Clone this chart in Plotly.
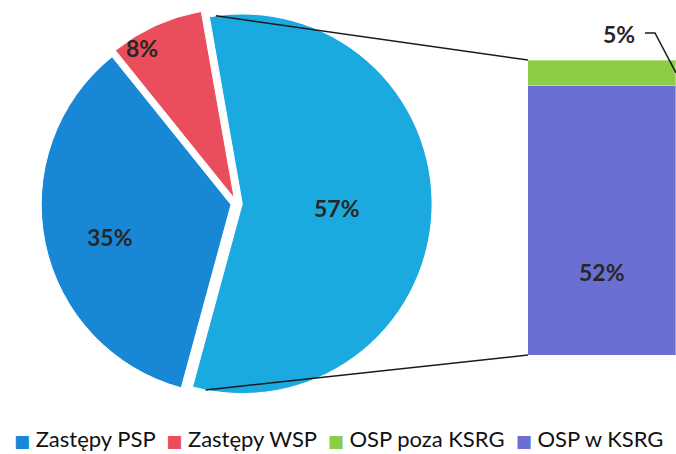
import math
import plotly.graph_objects as go

# ---- data ----
pie_labels = ["OSP", "Zastępy PSP", "Zastępy WSP"]
pie_values = [57, 35, 8]
pie_colors = ["#1BAAE0", "#1888D6", "#EA4E5C"]

bar_labels = ["OSP w KSRG", "OSP poza KSRG"]
bar_values = [52, 5]
bar_colors = ["#6B6FD4", "#8DCC45"]

legend_labels = ["Zastępy PSP", "Zastępy WSP", "OSP poza KSRG", "OSP w KSRG"]
legend_colors = ["#1888D6", "#EA4E5C", "#8DCC45", "#6B6FD4"]

# ---- layout params ----
W, H = 676, 454
ML, MR, MT, MB = 0, 0, 8, 55
PW, PH = W - ML - MR, H - MT - MB
pie_dom_x = [0.0, 0.70]
pie_rotation = -10
pull = 0.03
bar_dom_x = [0.781, 1.0]
bar_dom_y = [0.1125, 0.867]
label_radius = [0.5, 0.66, 0.93]     # label placement within each slice (fraction of radius)
label_angle_shift = [0, -3, -7]       # degrees
FONT = "Lato"
TXT = "#262626"

fig = go.Figure()

fig.add_trace(go.Pie(
    labels=pie_labels, values=pie_values, sort=False, direction="clockwise",
    rotation=pie_rotation, pull=[pull] * len(pie_values),
    marker=dict(colors=pie_colors, line=dict(color="white", width=1)),
    textposition="none",
    domain=dict(x=pie_dom_x, y=[0, 1]), showlegend=False, hoverinfo="label+percent",
))

# stacked bar (bottom first)
for lab, val, col in zip(bar_labels, bar_values, bar_colors):
    fig.add_trace(go.Bar(
        x=[0], y=[val], width=1, name=lab,
        marker=dict(color=col, line=dict(color="rgba(255,255,255,0.35)", width=1)),
        xaxis="x", yaxis="y", showlegend=False, hoverinfo="name+y",
    ))

total = sum(bar_values)

# ---- pie geometry ----
box_w = (pie_dom_x[1] - pie_dom_x[0]) * PW
r = min(box_w, PH) / (2 * (1 + pull))
cx = ML + (pie_dom_x[0] + pie_dom_x[1]) / 2 * PW
cy = MT + PH / 2
vsum = sum(pie_values)


def to_paper(px, py):
    return (px - ML) / PW, 1 - (py - MT) / PH


slices = []
acc = math.radians(pie_rotation)
for v in pie_values:
    a0 = acc
    a1 = acc + 2 * math.pi * v / vsum
    am = (a0 + a1) / 2
    slices.append((a0, a1, am, pull * r * math.sin(am), -pull * r * math.cos(am)))
    acc = a1

annotations = []
for (a0, a1, am, ox, oy), v, f, sh in zip(slices, pie_values, label_radius, label_angle_shift):
    a = am + math.radians(sh)
    px = cx + ox + f * r * math.sin(a)
    py = cy + oy - f * r * math.cos(a)
    x, y = to_paper(px, py)
    annotations.append(dict(x=x, y=y, xref="paper", yref="paper", text=f"{v}%", showarrow=False,
                            xanchor="center", yanchor="middle",
                            font=dict(family=FONT, size=23, color=TXT, weight="bold")))

# connector lines from the OSP slice to the bar
a0, a1, am, ox, oy = slices[0]


def arc_pt(t):
    return to_paper(cx + ox + r * math.sin(t), cy + oy - r * math.cos(t))


top_pt = arc_pt(a0 + math.radians(2))
bot_pt = arc_pt(a1 - math.radians(4))

shapes = [
    dict(type="line", xref="paper", yref="paper", x0=top_pt[0], y0=top_pt[1],
         x1=bar_dom_x[0], y1=bar_dom_y[1], line=dict(color="#1a1a1a", width=1.5)),
    dict(type="line", xref="paper", yref="paper", x0=bot_pt[0], y0=bot_pt[1],
         x1=bar_dom_x[0], y1=bar_dom_y[0], line=dict(color="#1a1a1a", width=1.5)),
]
green_mid = bar_dom_y[0] + (bar_values[0] + bar_values[1] / 2) / total * (bar_dom_y[1] - bar_dom_y[0])
lx0, ly0 = to_paper(645, 33)
lx1, ly1 = to_paper(655, 33)
shapes.append(dict(type="path", xref="paper", yref="paper",
                   path=f"M {lx0:.4f} {ly0:.4f} L {lx1:.4f} {ly1:.4f} L 1.0 {green_mid:.4f}",
                   line=dict(color="#1a1a1a", width=1.5)))

lab5 = to_paper(619, 34)
annotations += [
    dict(x=0, y=16, xref="x", yref="y", text=f"{bar_values[0]}%", showarrow=False,
         xanchor="center", yanchor="middle",
         font=dict(family=FONT, size=23, color=TXT, weight="bold")),
    dict(x=lab5[0], y=lab5[1], xref="paper", yref="paper", text=f"{bar_values[1]}%", showarrow=False,
         xanchor="center", yanchor="middle",
         font=dict(family=FONT, size=23, color=TXT, weight="bold")),
]

# legend row (coloured squares + category names)
legend_text = "  ".join(
    f"<span style='color:{c};font-family:DejaVu Sans;font-size:17px'>■</span> {lab}"
    for lab, c in zip(legend_labels, legend_colors)
)
leg = to_paper(338, 438)
annotations.append(dict(x=leg[0], y=leg[1], xref="paper", yref="paper", text=legend_text,
                        showarrow=False, xanchor="center", yanchor="middle",
                        font=dict(family=FONT, size=22, color="#111111")))

fig.update_layout(
    width=W, height=H, margin=dict(l=ML, r=MR, t=MT, b=MB),
    paper_bgcolor="white", plot_bgcolor="rgba(0,0,0,0)",
    barmode="stack", showlegend=False,
    xaxis=dict(domain=bar_dom_x, range=[-0.5, 0.5], visible=False, fixedrange=True),
    yaxis=dict(domain=bar_dom_y, range=[0, total], visible=False, fixedrange=True),
    shapes=shapes, annotations=annotations,
    font=dict(family=FONT),
)

fig.write_html("out.html", config={"displayModeBar": False},
               post_script="document.body.style.margin='0';document.body.style.overflow='hidden';")
